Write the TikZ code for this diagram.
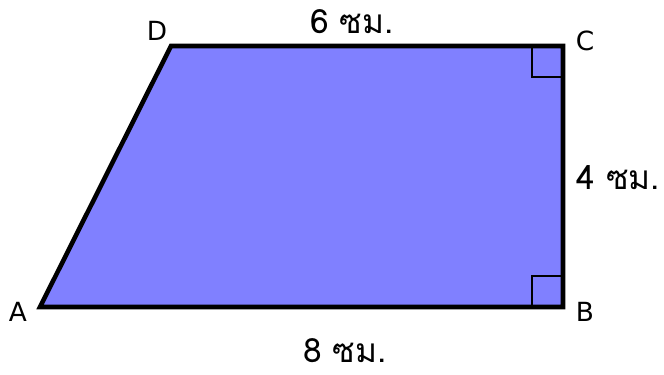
\documentclass[tikz,border=0pt]{standalone}
\usepackage{fontspec}
\setmainfont{DejaVu Sans}
\newfontfamily\thaifont[Script=Thai]{Loma}
\usetikzlibrary{positioning}

\begin{document}
\begin{tikzpicture}[x=0.02cm, y=-0.02cm]
		% Colours
		\definecolor{trapfill}{RGB}{128, 128, 255}

		% Styles
		\tikzset{
			vertex_label/.style={font=\fontsize{15}{18}\selectfont, inner sep=0pt},
			side_label/.style={font=\thaifont\fontsize{19}{22}\selectfont, inner sep=0pt},
			edge_line/.style={draw=black, line width=2.6pt, line join=miter},
			right_mark/.style={draw=black, line width=0.9pt}
		}

		\useasboundingbox (0, 0) rectangle (664, 375);

		% Corners
		\coordinate (A) at (40, 307);
		\coordinate (B) at (563, 307);
		\coordinate (C) at (563, 46);
		\coordinate (D) at (171, 46);

		% Trapezoid
		\fill[trapfill] (A) -- (B) -- (C) -- (D) -- cycle;

		% Right angle marks
		\draw[right_mark] (C) ++(0, 31) -- ++(-31, 0) -- ++(0, -31);
		\draw[right_mark] (B) ++(0, -31) -- ++(-31, 0) -- ++(0, 31);

		\draw[edge_line] (A) -- (B) -- (C) -- (D) -- cycle;

		% Corner names
		\node[vertex_label] (lblA) at (18, 312) {A};
		\node[vertex_label] (lblB) at (585, 312) {B};
		\node[vertex_label] (lblC) at (585, 41) {C};
		\node[vertex_label] (lblD) at (157, 31) {D};

		% Side lengths
		\node[side_label] (top) at (352, 22) {6 ซม.};
		\node[side_label, anchor=west] (right) at (576, 178) {4 ซม.};
		\node[side_label] (bottom) at (345, 351) {8 ซม.};

	\end{tikzpicture}
\end{document}
